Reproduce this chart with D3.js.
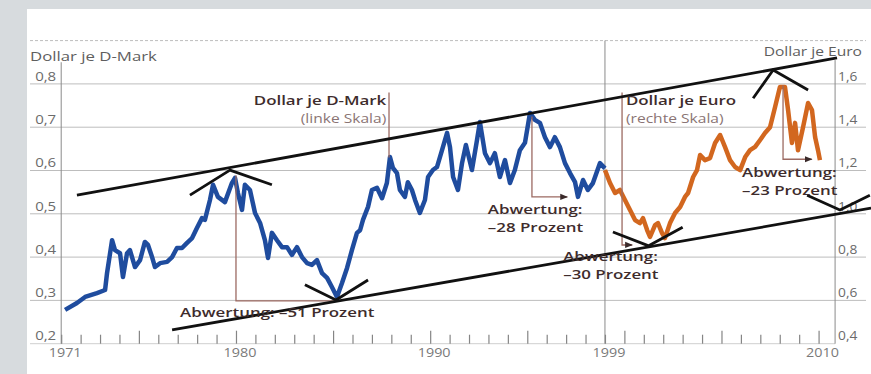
<!DOCTYPE html>
<html>
<head>
<meta charset="utf-8">
<script src="https://cdn.jsdelivr.net/npm/d3@7"></script>
<style>
  html, body { margin: 0; padding: 0; background: #d7dbde; }
  #chart { width: 871px; height: 374px; }
  text { font-family: 'Open Sans', 'Noto Sans', sans-serif; }
</style>
</head>
<body>
<div id="chart"></div>
<script>
// Dollar je D-Mark (linke Skala)
const dmYears = [1971.2, 1971.81, 1972.23, 1972.84, 1973.26, 1973.36, 1973.62, 1973.77, 1974.03, 1974.18,
  1974.39, 1974.54, 1974.8, 1975.06, 1975.31, 1975.47, 1975.68, 1975.83, 1976.09, 1976.45,
  1976.71, 1976.96, 1977.22, 1977.48, 1977.74, 1977.99, 1978.25, 1978.4, 1978.66, 1978.82,
  1979.07, 1979.43, 1979.79, 1979.95, 1980.1, 1980.31, 1980.46, 1980.72, 1980.98, 1981.24,
  1981.49, 1981.65, 1981.85, 1982.11, 1982.37, 1982.63, 1982.88, 1983.14, 1983.4, 1983.66,
  1983.91, 1984.17, 1984.43, 1984.69, 1984.94, 1985.2, 1985.46, 1985.72, 1985.97, 1986.23,
  1986.39, 1986.54, 1986.8, 1987.0, 1987.26, 1987.52, 1987.77, 1987.93, 1988.08, 1988.29,
  1988.44, 1988.7, 1988.85, 1989.06, 1989.22, 1989.47, 1989.73, 1989.89, 1990.14, 1990.35,
  1990.61, 1990.87, 1991.02, 1991.18, 1991.43, 1991.64, 1991.84, 1992.15, 1992.41, 1992.56,
  1992.82, 1993.08, 1993.33, 1993.59, 1993.85, 1994.11, 1994.36, 1994.62, 1994.88, 1995.14,
  1995.39, 1995.65, 1995.91, 1996.17, 1996.42, 1996.68, 1996.94, 1997.2, 1997.46, 1997.61,
  1997.87, 1998.12, 1998.38, 1998.74, 1999.0]
const dmValues = [0.278, 0.294, 0.308, 0.317, 0.324, 0.363, 0.439, 0.416, 0.409, 0.354,
  0.409, 0.416, 0.377, 0.393, 0.435, 0.428, 0.4, 0.377, 0.386, 0.389,
  0.4, 0.421, 0.421, 0.433, 0.444, 0.467, 0.49, 0.486, 0.532, 0.567,
  0.539, 0.527, 0.571, 0.583, 0.548, 0.509, 0.567, 0.555, 0.502, 0.479,
  0.439, 0.398, 0.456, 0.439, 0.423, 0.423, 0.405, 0.423, 0.4, 0.386,
  0.382, 0.393, 0.363, 0.352, 0.331, 0.308, 0.34, 0.375, 0.416, 0.456,
  0.462, 0.486, 0.516, 0.555, 0.56, 0.536, 0.571, 0.631, 0.606, 0.594,
  0.555, 0.539, 0.573, 0.555, 0.532, 0.502, 0.532, 0.585, 0.601, 0.608,
  0.647, 0.687, 0.654, 0.585, 0.555, 0.617, 0.659, 0.601, 0.67, 0.712,
  0.64, 0.617, 0.64, 0.585, 0.624, 0.571, 0.601, 0.647, 0.664, 0.733,
  0.717, 0.71, 0.677, 0.654, 0.677, 0.654, 0.617, 0.594, 0.573, 0.539,
  0.578, 0.555, 0.571, 0.617, 0.605]

// Dollar je Euro (rechte Skala)
const euroYears = [1999.0, 1999.26, 1999.52, 1999.77, 2000.03, 2000.29, 2000.55, 2000.8, 2000.96, 2001.17,
  2001.32, 2001.58, 2001.73, 2001.94, 2002.09, 2002.35, 2002.61, 2002.87, 2003.12, 2003.28,
  2003.54, 2003.74, 2003.9, 2004.15, 2004.41, 2004.67, 2004.93, 2005.18, 2005.44, 2005.7,
  2005.96, 2006.22, 2006.47, 2006.73, 2006.99, 2007.24, 2007.5, 2007.76, 2008.01, 2008.27,
  2008.43, 2008.63, 2008.79, 2008.94, 2009.2, 2009.46, 2009.66, 2009.82, 2009.97, 2010.07]
const euroValues = [1.202, 1.142, 1.096, 1.11, 1.064, 1.018, 0.971, 0.957, 0.98, 0.925,
  0.893, 0.948, 0.957, 0.911, 0.888, 0.957, 1.004, 1.031, 1.078, 1.096,
  1.17, 1.202, 1.272, 1.248, 1.257, 1.327, 1.364, 1.309, 1.248, 1.216,
  1.202, 1.262, 1.294, 1.309, 1.341, 1.373, 1.4, 1.493, 1.586, 1.586,
  1.479, 1.327, 1.42, 1.294, 1.4, 1.512, 1.479, 1.355, 1.294, 1.248]

const leftTicks = [0.2, 0.3, 0.4, 0.5, 0.6, 0.7, 0.8]
const rightTicks = [0.4, 0.6, 0.8, 1.0, 1.2, 1.4, 1.6]
const gridValues = [0.3, 0.4, 0.5, 0.6, 0.7, 0.8]
const yearLabels = [1971, 1980, 1990, 1999, 2010]
const yearTicks = d3.range(1971, 2011)

// Trendlinien und Markierungen (in Einheiten der linken Skala)
const upperTrend = [[1971.81, 0.543], [2010.95, 0.86]]
const lowerTrend = [[1976.71, 0.232], [2012.7, 0.513]]
const turnMarks = [
  [[1977.63, 0.543], [1979.69, 0.601], [1981.85, 0.567]],
  [[1983.55, 0.336], [1985.15, 0.301], [1986.8, 0.347]],
  [[1999.41, 0.458], [2001.25, 0.426], [2003.0, 0.469]],
  [[2006.63, 0.767], [2007.66, 0.832], [2009.46, 0.786]],
  [[2009.41, 0.543], [2011.1, 0.509], [2012.64, 0.543]]
]
const plainBrackets = [
  [[1980.0, 0.589], [1980.0, 0.299], [1985.1, 0.299]],
  [[1987.88, 0.78], [1987.88, 0.63]]
]
const arrowBrackets = [
  [[1995.24, 0.725], [1995.24, 0.539], [1997.06, 0.539]],
  [[1999.88, 0.78], [1999.88, 0.428], [2000.4, 0.428]],
  [[2008.17, 0.797], [2008.17, 0.626], [2009.65, 0.626]]
]
const annotations = [
  { lines: ['Dollar je D-Mark', '(linke Skala)'], year: 1987.74, value: 0.751, anchor: 'end' },
  { lines: ['Dollar je Euro', '(rechte Skala)'], year: 2000.08, value: 0.751, anchor: 'start' },
  { lines: ['Abwertung: \u201351 Prozent'], year: 1977.12, value: 0.262, anchor: 'start' },
  { lines: ['Abwertung:', '\u201328 Prozent'], year: 1992.97, value: 0.5, anchor: 'start' },
  { lines: ['Abwertung:', '\u201330 Prozent'], year: 1996.85, value: 0.391, anchor: 'start' },
  { lines: ['Abwertung:', '\u201323 Prozent'], year: 2006.06, value: 0.586, anchor: 'start' }
]

const width = 871
const height = 374
const stretch = 1.3 // Schrift im Original ist breit gezogen

const x = d3.scaleLinear().domain([1971, 2011]).range([61.2, 838])
const yLeft = d3.scaleLinear().domain([0.2, 0.9]).range([343.7, 40.6])
const yRight = d3.scaleLinear().domain([0.4, 1.8]).range([343.7, 40.6])

const de = d3.formatLocale({ decimal: ',', thousands: '.', grouping: [3], currency: ['', ' €'] })
const fmt = de.format('.1f')

const svg = d3.select('#chart').append('svg').attr('width', width).attr('height', height)

svg.append('rect').attr('width', width).attr('height', height).attr('fill', '#d7dbde')
svg.append('rect').attr('x', 27).attr('y', 9).attr('width', width - 27).attr('height', height - 9).attr('fill', '#fff')

// Gitternetz
svg
  .append('g')
  .selectAll('line')
  .data(gridValues)
  .join('line')
  .attr('x1', 30)
  .attr('x2', 866)
  .attr('y1', (d) => yLeft(d))
  .attr('y2', (d) => yLeft(d))
  .attr('stroke', '#bdbdbd')
  .attr('stroke-width', 1)

svg
  .append('line')
  .attr('x1', 30)
  .attr('x2', 866)
  .attr('y1', yLeft(0.9))
  .attr('y2', yLeft(0.9))
  .attr('stroke', '#bdbdbd')
  .attr('stroke-dasharray', '3,2')

svg
  .append('line')
  .attr('x1', 30)
  .attr('x2', x(2010.85))
  .attr('y1', yLeft(0.2))
  .attr('y2', yLeft(0.2))
  .attr('stroke', '#cfcfcf')

// senkrechte Achsen
svg.append('line').attr('x1', x(1971)).attr('x2', x(1971)).attr('y1', yLeft(0.85)).attr('y2', yLeft(0.2)).attr('stroke', '#8a8a8a')
svg.append('line').attr('x1', x(1999)).attr('x2', x(1999)).attr('y1', yLeft(0.9)).attr('y2', yLeft(0.2)).attr('stroke', '#8a8a8a')
svg.append('line').attr('x1', x(2010.85)).attr('x2', x(2010.85)).attr('y1', yLeft(0.855)).attr('y2', yLeft(0.2)).attr('stroke', '#8a8a8a')

// linke Skala
svg
  .append('g')
  .attr('transform', `translate(${x(1971) - 5},0)`)
  .call(d3.axisLeft(yLeft).tickValues(leftTicks).tickFormat(fmt).tickSize(0).tickPadding(0))
  .call((g) => {
    g.select('.domain').remove()
    g.selectAll('.tick text')
      .attr('fill', '#6b6b6b')
      .attr('font-size', '12.5px')
      .attr('dy', '-0.3em')
      .attr('transform', 'scale(1.2,1)')
  })

// rechte Skala
svg
  .append('g')
  .attr('transform', `translate(${x(2010.85) + 3},0)`)
  .call(d3.axisRight(yRight).tickValues(rightTicks).tickFormat(fmt).tickSize(0).tickPadding(0))
  .call((g) => {
    g.select('.domain').remove()
    g.selectAll('.tick text')
      .attr('fill', '#6b6b6b')
      .attr('font-size', '12.5px')
      .attr('dy', '-0.3em')
      .attr('transform', 'scale(1.1,1)')
  })

// Jahresstriche
svg
  .append('g')
  .attr('transform', `translate(0,${yLeft(0.2)})`)
  .call(d3.axisTop(x).tickValues(yearTicks).tickSize(9).tickFormat(''))
  .call((g) => {
    g.select('.domain').remove()
    g.selectAll('.tick line')
      .attr('stroke', '#858585')
      .attr('stroke-width', 1.2)
      .attr('y2', (d) => (d % 5 === 0 ? -13 : -9))
  })

svg
  .append('g')
  .attr('transform', `translate(0,${yLeft(0.2)})`)
  .call(d3.axisBottom(x).tickValues(yearLabels).tickFormat(d3.format('d')).tickSize(0).tickPadding(4))
  .call((g) => {
    g.select('.domain').remove()
    g.selectAll('.tick text')
      .attr('fill', '#7a7a7a')
      .attr('font-size', '12.5px')
      .attr('dx', '3')
      .attr('transform', 'scale(1.15,1)')
  })

// Achsentitel
svg
  .append('text')
  .attr('transform', 'translate(30,61) scale(1.4,1)')
  .attr('fill', '#5e5e5e')
  .attr('font-size', '12px')
  .text('Dollar je D-Mark')
svg
  .append('text')
  .attr('transform', 'translate(862,56) scale(1.3,1)')
  .attr('text-anchor', 'end')
  .attr('fill', '#5e5e5e')
  .attr('font-size', '12px')
  .text('Dollar je Euro')

// Kurven
const dmLine = d3
  .line()
  .x((d) => x(d[0]))
  .y((d) => yLeft(d[1]))
const euroLine = d3
  .line()
  .x((d) => x(d[0]))
  .y((d) => yRight(d[1]))

svg
  .append('path')
  .datum(dmYears.map((d, i) => [d, dmValues[i]]))
  .attr('d', dmLine)
  .attr('fill', 'none')
  .attr('stroke', '#1f4c9e')
  .attr('stroke-width', 4.5)
  .attr('stroke-linejoin', 'round')

svg
  .append('path')
  .datum(euroYears.map((d, i) => [d, euroValues[i]]))
  .attr('d', euroLine)
  .attr('fill', 'none')
  .attr('stroke', '#d2671f')
  .attr('stroke-width', 4.5)
  .attr('stroke-linejoin', 'round')

// Abwertungs-Klammern
svg
  .append('defs')
  .append('marker')
  .attr('id', 'arrow')
  .attr('viewBox', '0 0 10 10')
  .attr('refX', 9)
  .attr('refY', 5)
  .attr('markerWidth', 6)
  .attr('markerHeight', 6)
  .attr('orient', 'auto')
  .append('path')
  .attr('d', 'M0,1L10,5L0,9Z')
  .attr('fill', '#3a2a2a')

svg
  .append('g')
  .selectAll('path')
  .data(plainBrackets)
  .join('path')
  .attr('d', dmLine)
  .attr('fill', 'none')
  .attr('stroke', '#9c6a62')
  .attr('stroke-width', 1.3)

svg
  .append('g')
  .selectAll('path')
  .data(arrowBrackets)
  .join('path')
  .attr('d', dmLine)
  .attr('fill', 'none')
  .attr('stroke', '#9c6a62')
  .attr('stroke-width', 1.3)
  .attr('marker-end', 'url(#arrow)')

// Trendlinien
svg
  .append('g')
  .selectAll('path')
  .data([upperTrend, lowerTrend])
  .join('path')
  .attr('d', dmLine)
  .attr('fill', 'none')
  .attr('stroke', '#111')
  .attr('stroke-width', 2.8)

svg
  .append('g')
  .selectAll('path')
  .data(turnMarks)
  .join('path')
  .attr('d', dmLine)
  .attr('fill', 'none')
  .attr('stroke', '#111')
  .attr('stroke-width', 2.8)
  .attr('stroke-linejoin', 'round')

// Beschriftungen
const notes = svg
  .append('g')
  .selectAll('text')
  .data(annotations)
  .join('text')
  .attr('transform', (d) => `translate(${x(d.year)},${yLeft(d.value)}) scale(${stretch},1)`)
  .attr('text-anchor', (d) => d.anchor)

notes
  .selectAll('tspan')
  .data((d) => d.lines.map((t, i) => ({ t, i, sub: t.startsWith('(') })))
  .join('tspan')
  .attr('x', 0)
  .attr('dy', (d) => (d.i === 0 ? 0 : 18))
  .attr('font-size', (d) => (d.sub ? '12px' : '13px'))
  .attr('font-weight', (d) => (d.sub ? 400 : 600))
  .attr('fill', (d) => (d.sub ? '#8a7474' : '#3e2c2c'))
  .text((d) => d.t)
</script>
</body>
</html>
